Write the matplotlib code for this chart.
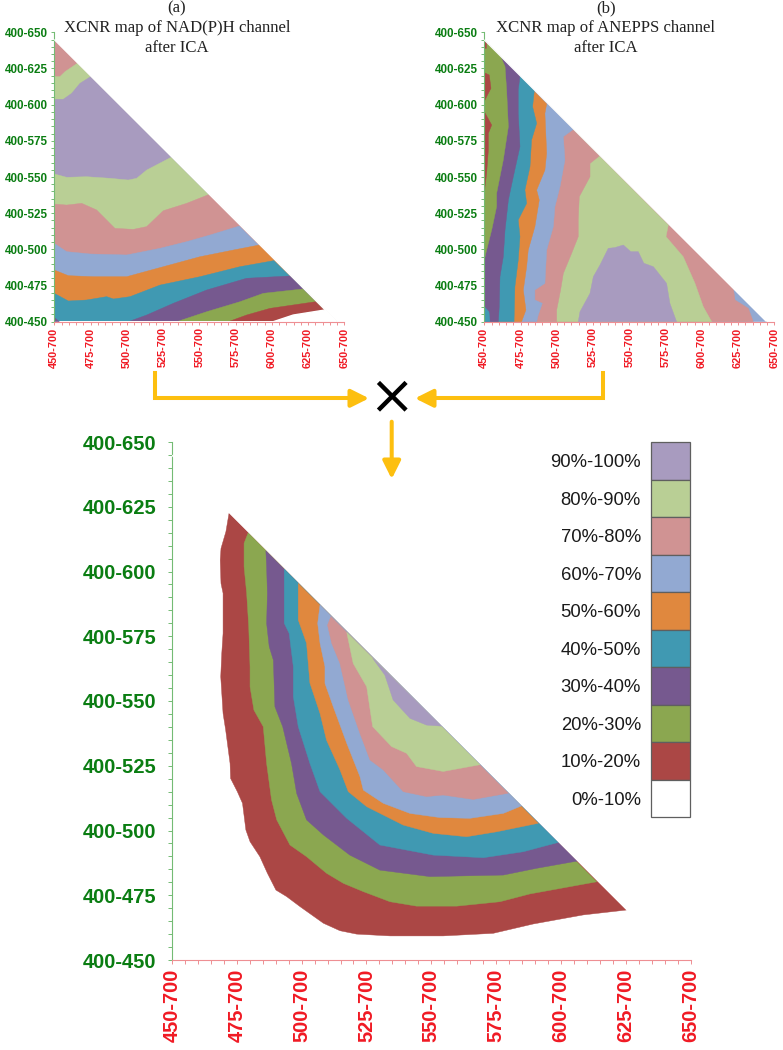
import matplotlib
matplotlib.use('Agg')
import matplotlib.pyplot as plt
from matplotlib.patches import Rectangle

# colores de la leyenda, de 90%-100% hasta 0%-10%
niveles = ['90%-100%', '80%-90%', '70%-80%', '60%-70%', '50%-60%',
           '40%-50%', '30%-40%', '20%-30%', '10%-20%', '0%-10%']
c90 = '#a89bbf'
c80 = '#b9cf95'
c70 = '#d09393'
c60 = '#92a9d2'
c50 = '#e0883e'
c40 = '#4099b2'
c30 = '#76598f'
c20 = '#8ba750'
c10 = '#ab4745'
c00 = '#ffffff'
colores = [c90, c80, c70, c60, c50, c40, c30, c20, c10, c00]

ticksY = [450, 475, 500, 525, 550, 575, 600, 625, 650]
ticksX = [450, 475, 500, 525, 550, 575, 600, 625, 650]
labelsY = ['400-450', '400-475', '400-500', '400-525', '400-550', '400-575', '400-600', '400-625', '400-650']
labelsX = ['450-700', '475-700', '500-700', '525-700', '550-700', '575-700', '600-700', '625-700', '650-700']

# mapa (a): NAD(P)H, curvas de arriba hacia abajo
limiteA = 644.7
a_triangulo = [(450, 644.7), (644.7, 450), (450, 450)]
a_80_sup = [(450, 619.4), (453.9, 619.4), (457.4, 622.8), (465.9, 628.6)]
a_90 = [(450, 603.7), (456.2, 603.7), (462, 607.8), (467.7, 614.7), (475.1, 619.4)]
a_80 = [(450, 552.1), (458.5, 549.8), (472.3, 550.2), (488.4, 549.1), (501, 547.9), (506.8, 549.1), (513.7, 554.8), (530.5, 563.6)]
a_70 = [(450, 531.3), (458.5, 530.6), (468.9, 531.8), (479.2, 527.2), (491.8, 514.5), (504.5, 513.8), (513.7, 515.7), (525.2, 526.7), (541.3, 531.8), (556.9, 538)]
a_60 = [(450, 504.1), (458.5, 498.4), (474.6, 496.8), (499.9, 496.1), (522.9, 500.7), (541.3, 505.3), (557.4, 509.9), (577.6, 516.1)]
a_50 = [(450, 485.7), (459.7, 481.8), (476.9, 481.1), (499.9, 481.1), (525.2, 488), (550.5, 494.9), (573.4, 499.5), (591.4, 503)]
a_40 = [(450, 469.6), (459.7, 464.3), (472.3, 465), (486.1, 467.3), (490.8, 465.7), (502.2, 467.3), (522.9, 475.3), (550.5, 481.1), (578, 488), (601.5, 492.2)]
a_30 = [(501, 450), (513.7, 454.6), (532.1, 462.7), (555.1, 471.9), (582.6, 480), (612.5, 481.6)]
a_20 = [(534.4, 450), (555.1, 456.9), (578, 463.8), (594.1, 469.6), (621.3, 472.6)]
a_10 = [(570, 450), (582.6, 454.6), (598.7, 459.2), (630.2, 463.8)]
a_00 = [(601, 450), (614.8, 454.6), (636.7, 458.1)]
a_30_esquina = [(450, 453), (453.5, 450), (450, 450)]

# mapa (b): ANEPPS, curvas de arriba hacia abajo, se pinta de derecha a izquierda
limiteB = 644.5
b_triangulo = [(450, 644.5), (644.5, 450), (450, 450)]
b_70_der = [(621.7, 473), (622.9, 465), (632.1, 459.2), (635.5, 450)]
b_80_der = [(576.9, 516.8), (575.3, 508.8), (587.2, 494.9), (595.3, 476.5), (601, 460.4), (606.8, 450)]
b_90 = [(514.8, 450), (516, 456.9), (522.9, 469.6), (525.2, 481.1), (529.8, 489.2), (535.5, 500.7), (540, 501.2), (545.9, 503), (551, 498.4), (556.2, 498.4), (560, 490.4), (566.6, 488), (575.7, 476.5), (578, 462.7), (582.6, 450)]
b_70 = [(529.3, 564.5), (522.9, 559.4), (522.9, 550.2), (515.5, 536.4), (514.8, 520.3), (514.8, 508.8), (510.2, 497.2), (504.5, 483.4), (502.6, 471.9), (499.9, 458.1), (499.9, 450)]
b_60 = [(511.4, 582.9), (504.5, 577.9), (505.6, 561.8), (502.2, 543.3), (498.7, 529.5), (497.6, 515.7), (493, 499.5), (491.8, 476.5), (484.9, 471.9), (484.9, 465), (490, 462.7), (487.2, 454.6), (486.1, 450)]
b_50 = [(493, 600.5), (491.8, 594), (493, 566.4), (491.8, 554.8), (486.1, 541), (487.9, 534.1), (484.9, 515.7), (480.3, 499.5), (479.2, 488), (476.9, 471.9), (478.7, 458.1), (475.7, 450)]
b_40 = [(484.5, 609.7), (483.3, 598.6), (486.1, 587.1), (482.6, 575.6), (481.5, 557.1), (478, 541), (479.2, 531.8), (473.4, 520.3), (474.6, 508.8), (473.4, 492.6), (471.1, 474.2), (470.5, 450)]
b_30 = [(474.6, 619.8), (473.4, 610.1), (473.4, 594), (474.6, 571), (470, 550.2), (466.6, 534.1), (464.3, 513.4), (463.1, 494.9), (460.8, 481.1), (460.3, 460.4), (459.7, 450)]
b_20 = [(461.3, 633.2), (464.3, 626.3), (465.4, 610.1), (466.6, 584.8), (463.1, 561.8), (458.5, 538.7), (458.5, 529.5), (455.1, 513.4), (451.6, 499.5), (450, 492.6)]
b_40_esquina = [(450, 460.4), (453.2, 456.9), (453.9, 450), (450, 450)]
b_10_a = [(450, 644.7), (451.6, 642.4), (451.4, 638.9), (450, 638.9)]
b_10_b = [(450, 622.1), (453.4, 620.5), (454.6, 611.3), (451.6, 605.5), (450, 602.1)]
b_10_c = [(450, 595.2), (455.1, 585.9), (452.8, 580.2), (452.8, 568.7), (451.6, 552.5), (450.5, 543.3), (450, 534.1)]

# mapa conjunto: regiones anidadas, cada curva se cierra por la hipotenusa
limiteM = 644.6
m_10 = [(472, 622.5), (470.8, 615.4), (468.9, 608.9), (468.6, 604.4), (468.9, 595.4), (469.7, 591.6), (469.7, 576.1), (469.2, 568.4), (468.8, 559.4), (469.7, 545.2), (470.7, 538.8), (472.4, 525.9), (472.6, 520.1), (475.2, 515), (477.2, 510.5), (478.5, 500.2), (480.1, 495.7), (483.9, 489.9), (486.8, 483.5), (490.1, 477), (494.2, 474.5), (499.4, 470.6), (508.4, 464.2), (514.8, 461.3), (521.2, 460), (534.1, 459.3), (554.6, 459.3), (573.9, 460.3), (589.3, 463.9), (608.6, 467.4), (625.3, 469.3)]
m_20 = [(479.4, 615), (477.8, 610.9), (477.8, 601.9), (478.8, 591.6), (479.6, 578.7), (480.1, 563.3), (480.1, 555.5), (481.6, 546.5), (485.2, 540.1), (486.5, 525.9), (488.4, 511.8), (490.4, 504.1), (495.5, 494.4), (501.9, 489.9), (509.6, 483.5), (516.1, 479.6), (523.8, 476.4), (534.1, 472.5), (544.3, 470.8), (559.8, 470.8), (576.5, 472.5), (588, 475.5), (613.8, 480.2)]
m_30 = [(486.2, 608), (486.5, 601.9), (486.8, 591.6), (486.5, 580), (487.5, 571), (489.1, 565.8), (489.7, 547.8), (492.7, 540.1), (496.1, 525.9), (498.1, 514.3), (501.9, 504.1), (508.4, 498.3), (518.6, 490.5), (530.2, 484.7), (549.5, 482.2), (577.8, 482.8), (590.6, 485.4), (606.3, 488.2)]
m_40 = [(493.3, 601), (493.3, 580), (495.2, 576.1), (496.8, 563.3), (496.8, 551.7), (498.7, 540.1), (503.2, 525.9), (507.1, 515), (517.4, 504.7), (530.2, 494.4), (550.8, 490.5), (570.1, 489.5), (585.5, 491.8), (599, 495.4)]
m_50 = [(498.7, 595.4), (498.7, 581.3), (501.9, 572.3), (503.2, 556.9), (507.1, 545.2), (509.6, 534.9), (514.8, 523.4), (518, 515), (525.1, 509.2), (539.2, 502.1), (550.8, 498.9), (563.6, 497.6), (575.2, 499.5), (591.3, 502.8)]
m_60 = [(507.1, 587.1), (506.2, 580), (507.1, 572.3), (509, 563.3), (509, 556.8), (512.2, 547.8), (517.4, 533.7), (522.5, 520.8), (523.8, 515.6), (531.5, 510.5), (541.8, 506.6), (553.3, 505), (564.9, 504.7), (577.8, 506.6), (584.8, 509.5)]
m_70 = [(511.3, 582.6), (510, 579.3), (511.6, 572.3), (514.8, 564.5), (518, 550.4), (522.5, 537.5), (526.4, 527.2), (531.5, 523.4), (539.2, 515), (548.2, 513.1), (554.6, 513.7), (566.2, 512), (579.7, 514.4)]
m_80 = [(517.4, 576.5), (519.9, 564.5), (525.1, 555.5), (527.4, 540.1), (534.7, 532.4), (540.5, 529.8), (544.3, 524.7), (554.6, 522.8), (568.8, 525.4)]
m_90 = [(527.4, 566.5), (532.1, 560), (535.3, 550.4), (541.8, 543.3), (548.2, 540.7), (554, 540.3)]

ANCHO = 783
ALTO = 1050
VERDE = '#0a7d12'
VERDE_EJE = '#74bb74'
ROJO = '#f01a24'
ROJO_EJE = '#ee8f93'
AMARILLO = '#fdbf0f'


def crearEjes(fig, izq, der, arriba, abajo, sizeY, sizeX, largo):
    ax = fig.add_axes([izq / ANCHO, 1 - abajo / ALTO, (der - izq) / ANCHO, (abajo - arriba) / ALTO])
    ax.set_xlim(450, 650)
    ax.set_ylim(450, 650)
    for lado in ['top', 'right']:
        ax.spines[lado].set_visible(False)
    ax.spines['left'].set_color(VERDE_EJE)
    ax.spines['bottom'].set_color(ROJO_EJE)
    ax.set_xticks(ticksX)
    ax.set_xticklabels(labelsX, rotation=90, fontsize=sizeX, fontweight='bold', color=ROJO)
    ax.set_yticks(ticksY)
    ax.set_yticklabels(labelsY, fontsize=sizeY, fontweight='bold', color=VERDE)
    ax.set_xticks(range(450, 651, 5), minor=True)
    ax.set_yticks(range(450, 651, 5), minor=True)
    ax.tick_params(axis='x', which='both', colors=ROJO_EJE, labelcolor=ROJO, length=largo, width=0.7)
    ax.tick_params(axis='y', which='both', colors=VERDE_EJE, labelcolor=VERDE, length=largo, width=0.7)
    ax.patch.set_alpha(0)
    return ax


def rellenar(ax, puntos, color, borde=0.3):
    xs = [p[0] for p in puntos]
    ys = [p[1] for p in puntos]
    ax.fill(xs, ys, facecolor=color, edgecolor=color, linewidth=borde, zorder=2)


def limpiarHipotenusa(ax, limite):
    # las capas apiladas dejan un filo oscuro en la diagonal
    ax.plot([450, limite], [limite + 0.3, 0.3 + 450], color='white', lw=1.0, zorder=3, solid_capstyle='butt')


def graficaA(ax):
    rellenar(ax, a_triangulo, c70)
    bandas = [(a_80_sup, c80), (a_90, c90), (a_80, c80), (a_70, c70), (a_60, c60),
              (a_50, c50), (a_40, c40), (a_30, c30), (a_20, c20), (a_10, c10)]
    for curva, color in bandas:
        # se cierra por la hipotenusa y la base
        rellenar(ax, curva + [(limiteA, 450), (450, 450)], color)
    rellenar(ax, a_00 + [(limiteA, 450), (450, 450)], c00, borde=1.0)
    rellenar(ax, a_30_esquina, c30)
    limpiarHipotenusa(ax, limiteA)


def graficaB(ax):
    rellenar(ax, b_triangulo, c60)
    izquierda = [(b_70_der, c70), (b_80_der, c80)]
    for curva, color in izquierda:
        rellenar(ax, curva + [(450, 450), (450, limiteB)], color)
    rellenar(ax, b_90, c90)
    for curva, color in [(b_70, c70), (b_60, c60), (b_50, c50), (b_40, c40), (b_30, c30), (b_20, c20)]:
        rellenar(ax, curva + [(450, 450), (450, limiteB)], color)
    rellenar(ax, b_40_esquina, c40)
    rellenar(ax, b_10_a, c10)
    rellenar(ax, b_10_b, c10)
    rellenar(ax, b_10_c, c10)
    limpiarHipotenusa(ax, limiteB)


def graficaConjunta(ax):
    regiones = [m_10, m_20, m_30, m_40, m_50, m_60, m_70, m_80, m_90]
    tonos = [c10, c20, c30, c40, c50, c60, c70, c80, c90]
    for curva, color in zip(regiones, tonos):
        rellenar(ax, curva, color)
    limpiarHipotenusa(ax, limiteM)


def leyenda(fig):
    ax = fig.add_axes([650.7 / ANCHO, 1 - 817.3 / ALTO, 39.3 / ANCHO, 375 / ALTO])
    ax.set_xlim(0, 1)
    ax.set_ylim(0, len(niveles))
    ax.axis('off')
    for i, (texto, color) in enumerate(zip(niveles, colores)):
        pos = len(niveles) - 1 - i
        ax.add_patch(Rectangle((0, pos), 1, 1, facecolor=color, edgecolor='#5f5f5f', linewidth=0.9, clip_on=False))
        ax.text(-0.25, pos + 0.45, texto, ha='right', va='center', fontsize=13.3, color='#1a1a1a')


def flechas(fig):
    # capa en pixeles para flechas y titulos
    ax = fig.add_axes([0, 0, 1, 1])
    ax.set_xlim(0, ANCHO)
    ax.set_ylim(ALTO, 0)
    ax.axis('off')
    ax.patch.set_alpha(0)
    estilo = dict(arrowstyle='-|>,head_length=0.9,head_width=0.45', color=AMARILLO, lw=2.9, shrinkA=0, shrinkB=0, mutation_scale=12)
    ax.plot([155, 155, 355], [372.7, 398.3, 398.3], color=AMARILLO, lw=2.9, solid_joinstyle='miter')
    ax.annotate('', xy=(369, 398.3), xytext=(350, 398.3), arrowprops=estilo)
    ax.plot([603.3, 603.3, 430], [372.7, 398.3, 398.3], color=AMARILLO, lw=2.9, solid_joinstyle='miter')
    ax.annotate('', xy=(415, 398.3), xytext=(434, 398.3), arrowprops=estilo)
    ax.annotate('', xy=(391.7, 479), xytext=(391.7, 421.7), arrowprops=estilo)
    ax.plot([380, 404.5], [384, 408.5], color='black', lw=3.2)
    ax.plot([380, 404.5], [408.5, 384], color='black', lw=3.2)

    serif = dict(family='Liberation Serif', fontsize=12.1, color='#222222', ha='center', va='center')
    ax.text(177, 8, '(a)', **serif)
    ax.text(177, 28, 'XCNR map of NAD(P)H channel', **serif)
    ax.text(177, 48, 'after ICA', **serif)
    ax.text(606, 8, '(b)', **serif)
    ax.text(606, 28, 'XCNR map of ANEPPS channel', **serif)
    ax.text(606, 48, 'after ICA', **serif)


plt.rcParams['font.family'] = ['Liberation Sans', 'DejaVu Sans']
fig = plt.figure(figsize=(ANCHO / 100, ALTO / 100), dpi=100)

axA = crearEjes(fig, 54.3, 344.3, 32.3, 321.7, 8.4, 7.9, 2)
axB = crearEjes(fig, 484.3, 774.3, 32.3, 321.7, 8.4, 7.9, 2)
axM = crearEjes(fig, 172, 690.5, 442, 960, 14.5, 14.4, 3)
axA.tick_params(axis='x', which='both', pad=2)
axB.tick_params(axis='x', which='both', pad=2)
axA.tick_params(axis='y', which='both', pad=2.3)
axB.tick_params(axis='y', which='both', pad=2.3)
axM.tick_params(axis='y', which='both', pad=8)
axM.tick_params(axis='x', which='both', pad=3)

graficaA(axA)
graficaB(axB)
graficaConjunta(axM)
leyenda(fig)
flechas(fig)

fig.savefig('out.png', dpi=100)
